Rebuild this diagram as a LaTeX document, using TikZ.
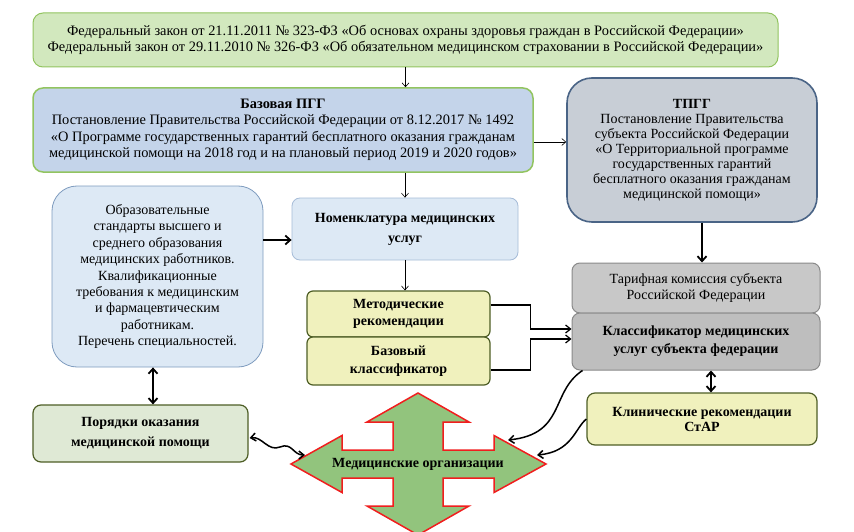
\documentclass[tikz,border=0pt]{standalone}
\usepackage{fontspec}
\setmainfont{Liberation Serif}
\usetikzlibrary{arrows.meta,calc}
\definecolor{lawfill}{RGB}{210,232,190}
\definecolor{lawline}{RGB}{146,196,96}
\definecolor{pggfill}{RGB}{196,212,234}
\definecolor{tpggfill}{RGB}{200,206,214}
\definecolor{tpggline}{RGB}{74,100,134}
\definecolor{edufill}{RGB}{221,233,245}
\definecolor{eduline}{RGB}{127,156,191}
\definecolor{nomline}{RGB}{166,188,216}
\definecolor{yelfill}{RGB}{240,241,189}
\definecolor{oliveline}{RGB}{78,94,38}
\definecolor{greyfill}{RGB}{200,200,200}
\definecolor{greyfilld}{RGB}{190,190,190}
\definecolor{greyline}{RGB}{138,138,138}
\definecolor{procfill}{RGB}{223,233,213}
\definecolor{starfill}{RGB}{146,196,125}
\definecolor{starline}{RGB}{240,30,30}
\begin{document}
\begin{tikzpicture}[x=1pt,y=-1pt,
  txt/.style={align=center,inner sep=0pt,font=\fontsize{14}{16}\selectfont},
  bigtxt/.style={font=\fontsize{14.4}{16.5}\selectfont},
  bx/.style 2 args={txt,draw,minimum width=#1pt,minimum height=#2pt},
  thinarr/.style={line width=0.6pt,-{Straight Barb[length=4pt,width=7pt]}},
  midarr/.style={line width=1.2pt,-{Straight Barb[length=5pt,width=8pt]}},
  thickarr/.style={line width=1.8pt,-{Straight Barb[length=5pt,width=9pt]}},
  thickboth/.style={line width=1.8pt,{Straight Barb[length=5pt,width=9pt]}-{Straight Barb[length=5pt,width=9pt]}},
  curvearr/.style={line width=1.5pt,-{Straight Barb[length=5pt,width=8pt]}},
  curveboth/.style={line width=1.5pt,{Straight Barb[length=5pt,width=8pt]}-{Straight Barb[length=5pt,width=8pt]}}
]
\useasboundingbox (0,0) rectangle (854,532);
\fill[white] (0,0) rectangle (854,532);
\clip (0,0) rectangle (854,532);

\node[bx={745}{54},bigtxt,fill=lawfill,draw=lawline,line width=1pt,rounded corners=10pt] (law) at (405.5,40)
 {Федеральный закон от 21.11.2011 № 323-ФЗ «Об основах охраны здоровья граждан в Российской Федерации»\\
  Федеральный закон от 29.11.2010 № 326-ФЗ «Об обязательном медицинском страховании в Российской Федерации»};

\node[bx={500}{84},bigtxt,fill=pggfill,draw=lawline,line width=1.5pt,rounded corners=10pt] (pgg) at (283,130)
 {\textbf{Базовая ПГГ}\\
  Постановление Правительства Российской Федерации от 8.12.2017 № 1492\\
  «О Программе государственных гарантий бесплатного оказания гражданам\\
  медицинской помощи на 2018 год и на плановый период 2019 и 2020 годов»};

\node[bx={250}{144},fill=tpggfill,draw=tpggline,line width=1.6pt,rounded corners=25pt,font=\fontsize{14}{15}\selectfont] (tpgg) at (692,150)
 {\textbf{ТПГГ}\\Постановление Правительства\\субъекта Российской Федерации\\«О Территориальной программе\\государственных гарантий\\бесплатного оказания гражданам\\медицинской помощи»};

\node[bx={211}{181},fill=edufill,draw=eduline,line width=0.8pt,rounded corners=25pt,font=\fontsize{14}{16.4}\selectfont] (edu) at (157.5,276.5)
 {Образовательные\\стандарты высшего и\\среднего образования\\медицинских работников.\\Квалификационные\\требования к медицинским\\и фармацевтическим\\работникам.\\Перечень специальностей.};

\node[bx={226}{62},fill=edufill,draw=nomline,line width=0.8pt,rounded corners=8pt,font=\fontsize{14}{20}\selectfont] (nom) at (405,229)
 {\textbf{Номенклатура медицинских}\\\textbf{услуг}};

\node[bx={183}{46},fill=yelfill,draw=oliveline,line width=1.2pt,rounded corners=6pt,font=\fontsize{14}{17}\selectfont] (meth) at (398.5,314)
 {\textbf{Методические}\\\textbf{рекомендации}};
\node[bx={183}{48},fill=yelfill,draw=oliveline,line width=1.2pt,rounded corners=6pt,font=\fontsize{14}{18}\selectfont] (base) at (398.5,361)
 {\textbf{Базовый}\\\textbf{классификатор}};

\node[bx={248}{50},fill=greyfill,draw=greyline,line width=1pt,rounded corners=8pt] (tariff) at (696,288)
 {Тарифная комиссия субъекта\\Российской Федерации};
\node[bx={248}{57},fill=greyfilld,draw=greyline,line width=1pt,rounded corners=8pt,font=\fontsize{14}{18}\selectfont] (clsf) at (696,341.5)
 {\textbf{Классификатор медицинских}\\\textbf{услуг субъекта федерации}};

\node[bx={230}{52},fill=yelfill,draw=oliveline,line width=1.2pt,rounded corners=8pt,font=\fontsize{14}{15}\selectfont] (clin) at (702,419)
 {\textbf{Клинические рекомендации}\\\textbf{СтАР}};

\node[bx={215}{57},fill=procfill,draw=oliveline,line width=1.2pt,rounded corners=8pt,font=\fontsize{14}{20}\selectfont] (proc) at (140.5,433.5)
 {\textbf{Порядки оказания}\\\textbf{медицинской помощи}};

% star
\coordinate (sc) at (418,464);
\draw[fill=starfill,draw=starline,line width=1.5pt,line join=miter,shift={(sc)}]
  (0,-71) -- (51,-42) -- (25,-42) -- (25,-14) -- (76,-14) -- (76,-28.5) -- (128,0)
  -- (76,28.5) -- (76,14) -- (25,14) -- (25,42) -- (51,42) -- (0,71)
  -- (-51,42) -- (-25,42) -- (-25,14) -- (-76,14) -- (-76,28.5) -- (-127,0)
  -- (-76,-28.5) -- (-76,-14) -- (-25,-14) -- (-25,-42) -- (-51,-42) -- cycle;
\node[txt] (star) at (sc) {\textbf{Медицинские организации}};
\coordinate (starL) at (305,455);
\coordinate (starR1) at (508,440);
\coordinate (starR2) at (537,455);

% helper coordinates
\coordinate (pggE) at ($(pgg.east)+(0,12)$);
\coordinate (nomW) at ($(nom.west)+(0,11)$);
\coordinate (methE) at ($(meth.east)+(0,-9)$);
\coordinate (baseE) at ($(base.east)+(0,9)$);
\coordinate (clsfW1) at ($(clsf.west)+(0,-12.5)$);
\coordinate (clsfW2) at ($(clsf.west)+(0,-2.5)$);
\coordinate (tpggS) at ($(tpgg.south)+(10,0)$);
\coordinate (clsfS) at ($(clsf.south)+(15,0)$);
\coordinate (eduS) at ($(edu.south)+(-4.5,0)$);
\coordinate (procE) at ($(proc.east)+(1,4.5)$);
\coordinate (clsfSW) at ($(clsf.south west)+(11,0)$);

% connectors
\draw[thinarr] (law.south) -- (law.south |- pgg.north);
\draw[thinarr] (pggE) -- (pggE -| tpgg.west);
\draw[thinarr] (pgg.south -| nom.north) -- (nom.north);
\draw[thickarr] (edu.east |- nomW) -- (nomW);
\draw[thinarr] (nom.south) -- (nom.south |- meth.north);
\draw[midarr] (methE) -- ++(40,0) |- (clsfW1);
\draw[midarr] (baseE) -- ++(40,0) |- (clsfW2);
\draw[thickarr] (tpggS) -- (tpggS |- tariff.north);
\draw[thickboth] (clsfS) -- (clsfS |- clin.north);
\draw[thickboth] (eduS) -- (eduS |- proc.north);
\draw[curveboth] (procE) .. controls (262,436) and (268,452) .. (280,447)
   .. controls (292,442) and (293,455) .. (starL);
\draw[curvearr] (clsfSW) .. controls (550,392) and (566,434) .. (starR1);
\draw[curvearr] (clin.west) .. controls (575,428) and (572,452) .. (starR2);
\end{tikzpicture}
\end{document}
